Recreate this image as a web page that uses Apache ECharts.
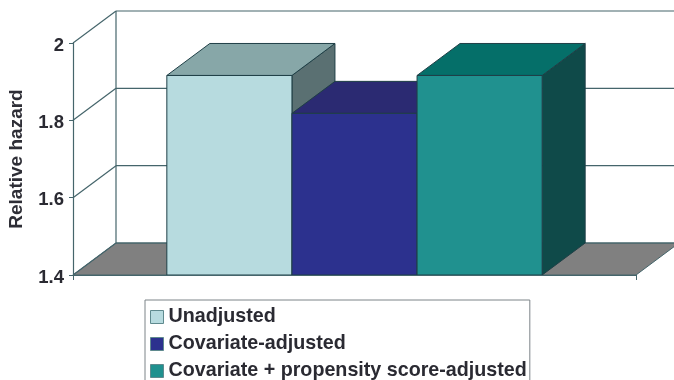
<!DOCTYPE html>
<html>
<head>
<meta charset="utf-8">
<style>html,body{margin:0;padding:0;background:#fff}#chart{width:674px;height:380px}</style>
<script src="https://cdn.jsdelivr.net/npm/echarts@6/dist/echarts.min.js"></script>
</head>
<body>
<div id="chart"></div>
<script>
// Relative hazard estimates, one bar per adjustment method
const seriesNames = ['Unadjusted', 'Covariate-adjusted', 'Covariate + propensity score-adjusted'];
const unadjusted = [1.916];
const covariateAdjusted = [1.818];
const propensityAdjusted = [1.916];
const categories = [''];
const yTicks = [1.4, 1.6, 1.8, 2];

// Shear applied to reach the rear plane of the pseudo-3D box
const DEPTH_X = 43, DEPTH_Y = -32;
const LINE = '#45656b';
const EDGE = '#1f3f46';
const faces = [
  { front: '#b7dbdf', top: '#87a7a8', side: '#5a7072' },
  { front: '#2c318e', top: '#2b2a72', side: '#1f2158' },
  { front: '#20918f', top: '#056f69', side: '#0f4a49' }
];

const back = p => [p[0] + DEPTH_X, p[1] + DEPTH_Y];

function renderWalls(params, api) {
  const v = api.value(0);
  const [xMin, xMax] = [params.coordSys.x, params.coordSys.x + params.coordSys.width];
  const y = api.coord([0, v])[1];
  const left = [xMin, y], right = [xMax, y];
  const line = (a, b) => ({
    type: 'line',
    shape: { x1: a[0], y1: a[1], x2: b[0], y2: b[1] },
    style: { stroke: LINE, lineWidth: 1.2 }
  });
  const children = [];
  if (v === yTicks[0]) {
    children.push({
      type: 'polygon',
      shape: { points: [left, right, back(right), back(left)] },
      style: { fill: '#808080', stroke: LINE, lineWidth: 1 }
    });
  }
  children.push(line(left, back(left)), line(back(left), back(right)));
  if (v === yTicks[yTicks.length - 1]) {
    const bottom = [xMin, api.coord([0, yTicks[0]])[1]];
    children.push(line(back(left), back(bottom)));
  }
  return { type: 'group', children };
}

function barRenderer(index) {
  return function (params, api) {
    const band = api.size([1, 0])[0];
    const w = band / 4.5;
    const center = api.coord([api.value(0), 0])[0];
    const x0 = center - 1.5 * w + index * w;
    const x1 = x0 + w;
    const yTop = api.coord([0, api.value(1)])[1];
    const yBase = api.coord([0, yTicks[0]])[1];
    const f = faces[index];
    const style = fill => ({ fill, stroke: EDGE, lineWidth: 1, lineJoin: 'round' });
    return {
      type: 'group',
      children: [
        { type: 'polygon', shape: { points: [[x1, yTop], back([x1, yTop]), back([x1, yBase]), [x1, yBase]] }, style: style(f.side) },
        { type: 'polygon', shape: { points: [[x0, yTop], [x1, yTop], back([x1, yTop]), back([x0, yTop])] }, style: style(f.top) },
        { type: 'rect', shape: { x: x0, y: yTop, width: x1 - x0, height: yBase - yTop }, style: style(f.front) }
      ]
    };
  };
}

const barSeries = [unadjusted, covariateAdjusted, propensityAdjusted].map((values, i) => ({
  type: 'custom',
  name: seriesNames[i],
  renderItem: barRenderer(i),
  encode: { x: 0, y: 1 },
  data: values.map((v, k) => [k, v]),
  itemStyle: { color: faces[i].front },
  silent: true,
  z: 3 + i
}));

const chart = echarts.init(document.getElementById('chart'), null, { renderer: 'canvas' });
chart.setOption({
  animation: false,
  backgroundColor: '#ffffff',
  textStyle: { fontFamily: '"Liberation Sans", Arial, sans-serif' },
  grid: { left: 73, right: 38, top: 43, bottom: 105, outerBoundsMode: 'none' },
  xAxis: {
    type: 'category',
    data: categories,
    axisLine: { show: true, lineStyle: { color: LINE, width: 1.2 } },
    axisTick: { show: true, length: 5, lineStyle: { color: LINE } },
    axisLabel: { show: false },
    splitLine: { show: false },
    z: 8
  },
  yAxis: {
    type: 'value',
    min: 1.4,
    max: 2,
    interval: 0.2,
    name: 'Relative hazard',
    nameLocation: 'middle',
    nameRotate: 90,
    nameGap: 47,
    nameTextStyle: { color: '#2e2e36', fontWeight: 'bold', fontSize: 19 },
    axisLine: { show: true, lineStyle: { color: LINE, width: 1.2 } },
    axisTick: { show: true, length: 4, lineStyle: { color: LINE } },
    axisLabel: {
      color: '#2a2a32',
      fontWeight: 'bold',
      fontSize: 18.5,
      margin: 9,
      verticalAlign: 'top',
      lineHeight: 5,
      formatter: v => String(Math.round(v * 10) / 10)
    },
    splitLine: { show: false }
  },
  legend: {
    orient: 'vertical',
    left: 145,
    top: 300,
    height: 100,
    padding: [7, 3, 8, 5],
    data: seriesNames,
    icon: 'rect',
    itemWidth: 13,
    itemHeight: 13,
    itemGap: 7,
    align: 'left',
    backgroundColor: '#ffffff',
    borderColor: '#7d8488',
    borderWidth: 1,
    selectedMode: false,
    textStyle: { color: '#2a2a32', fontWeight: 'bold', fontSize: 19.7, lineHeight: 18 },
    itemStyle: { borderColor: '#5f8a8e', borderWidth: 1 }
  },
  series: [
    {
      type: 'custom',
      name: 'walls',
      renderItem: renderWalls,
      encode: { y: 0 },
      data: yTicks.map(v => [v]),
      silent: true,
      z: 1
    }
  ].concat(barSeries)
});
</script>
</body>
</html>
